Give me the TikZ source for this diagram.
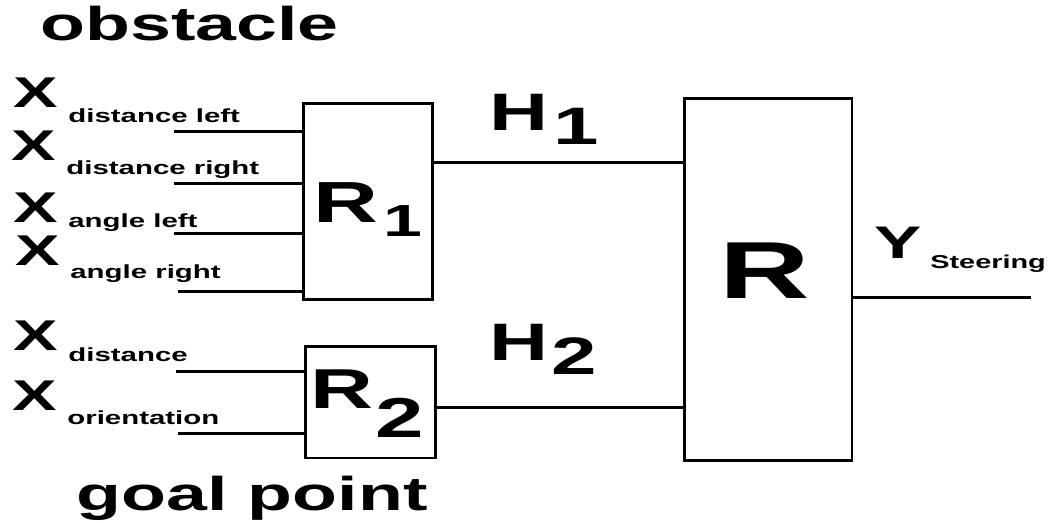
\documentclass[tikz,border=0pt]{standalone}
\usepackage{fontspec}
\setmainfont{Liberation Sans}[FakeStretch=1.55]
\usetikzlibrary{positioning,calc}
\newcommand{\xlbl}[2]{{\fontsize{24.5}{25}\selectfont X}\hspace{6pt}\raisebox{-#1}{\fontsize{10.8}{11}\selectfont #2}}

\begin{document}
\begin{tikzpicture}[x=0.02cm, y=-0.02cm, font=\bfseries,
	block/.style={draw, line width=1.7pt, inner sep=0pt},
	txt/.style={anchor=base west, inner sep=0pt},
	wire/.style={line width=1.7pt}]
	\useasboundingbox (0,0) rectangle (1051,522);
	% blocks
	\node[block, minimum width=2.6cm, minimum height=3.94cm] (r1) at (368,201.5) {};
	\node[block, minimum width=2.62cm, minimum height=2.24cm] (r2) at (370.5,402) {};
	\node[block, minimum width=3.36cm, minimum height=7.26cm] (r) at (768,279.5) {};
	
	\node[txt] (r1lbl) at (313,222) {\fontsize{33}{33}\selectfont R\hspace{3pt}\raisebox{-8pt}{\fontsize{25.6}{26}\selectfont 1}};
	\node[txt] (r2lbl) at (310,408) {\fontsize{32}{32}\selectfont R\hspace{1pt}\raisebox{-16.5pt}{\fontsize{32}{32}\selectfont 2}};
	\node[txt] (rlbl) at (719,298) {\fontsize{46}{46}\selectfont R};
	
	% group titles
	\node[txt] (obst) at (40,40) {\fontsize{27}{27}\selectfont obstacle};
	\node[txt] (goal) at (76,510) {\fontsize{27}{27}\selectfont goal point};
	
	% inputs
	\node[txt] (xdl) at (13,107) {\xlbl{9pt}{distance left}};
	\node[txt] (xdr) at (11,160) {\xlbl{8pt}{distance right}};
	\node[txt] (xal) at (13,222) {\xlbl{3pt}{angle left}};
	\node[txt] (xar) at (15,265) {\xlbl{7.4pt}{angle right}};
	\node[txt] (xd) at (13,350) {\xlbl{6.8pt}{distance}};
	\node[txt] (xo) at (12,410) {\xlbl{8pt}{orientation}};
	
	\coordinate (in1) at (174,131);
	\coordinate (in2) at (174,183);
	\coordinate (in3) at (174,233);
	\coordinate (in4) at (178,291);
	\coordinate (in5) at (176,371);
	\coordinate (in6) at (178,433);
	\foreach \c in {in1,in2,in3,in4}
		\draw[wire] (\c) -- (\c -| r1.west);
	\foreach \c in {in5,in6}
		\draw[wire] (\c) -- (\c -| r2.west);
	
	% hidden signals
	\node[txt] (h1) at (489,130) {\fontsize{30}{30}\selectfont H\hspace{3pt}\raisebox{-8.5pt}{1}};
	\node[txt] (h2) at (489,360) {\fontsize{30}{30}\selectfont H\hspace{2pt}\raisebox{-8.5pt}{2}};
	\draw[wire] (r1.east |- 0,162) -- (r.west |- 0,162);
	\draw[wire] (r2.east |- 0,407) -- (r.west |- 0,407);
	
	% output
	\node[txt] (ylbl) at (874,258) {\fontsize{26}{26}\selectfont Y\hspace{5pt}\raisebox{-5.7pt}{\fontsize{10.6}{11}\selectfont Steering}};
	\coordinate (yout) at (1031,297);
	\draw[wire] (r.east |- yout) -- (yout);
\end{tikzpicture}
\end{document}
